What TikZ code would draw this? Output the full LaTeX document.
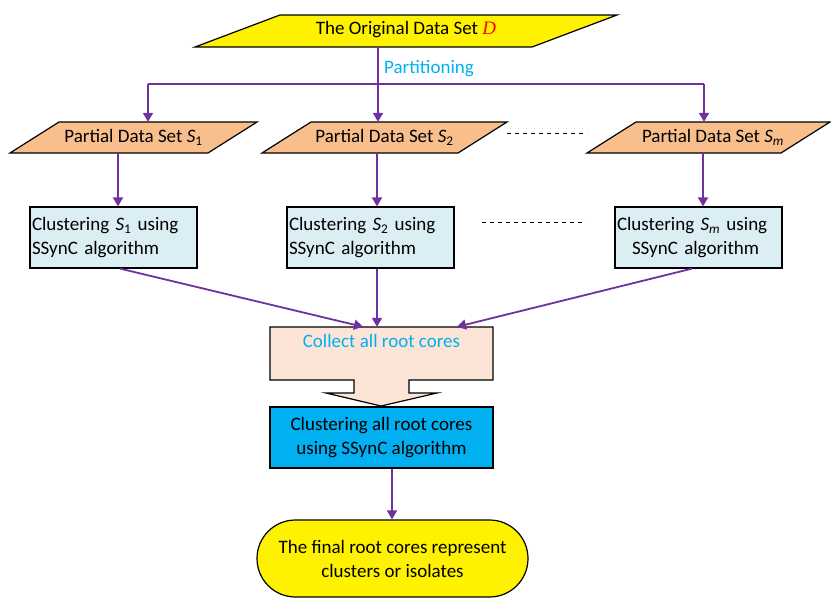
\documentclass[tikz,border=0pt]{standalone}
\usepackage{fontspec}
\setmainfont{Carlito}
\newfontfamily\serifD{Liberation Serif}
\usetikzlibrary{arrows.meta,calc,shapes.misc}
\definecolor{purp}{HTML}{7030A0}
\definecolor{cyanT}{HTML}{00B0F0}
\definecolor{peach}{HTML}{F8BF8D}
\definecolor{lblue}{HTML}{DBEEF4}
\definecolor{lpeach}{HTML}{FCE5D6}
\newcommand\Sx[1]{\textit{S}\textsubscript{#1}}
\begin{document}
\begin{tikzpicture}[x=1pt,y=-1pt,font=\fontsize{19}{24}\selectfont,
  shp/.style={draw=black,line width=1.2pt},
  arr/.style={draw=purp,line width=1.8pt,-{Triangle[length=9pt,width=10pt]}},
  ln/.style={draw=purp,line width=1.8pt},
  dsh/.style={draw=black,line width=0.9pt,dash pattern=on 4pt off 4pt},
  pnode/.style={inner sep=0pt,minimum height=31pt},
  cbox/.style={shp,fill=lblue,minimum width=167pt,minimum height=61pt,inner xsep=2pt,text width=163pt,align=left},
  bigbox/.style={shp,minimum width=223pt,minimum height=61pt,align=center}]
\useasboundingbox (0,0) rectangle (831,598);

% top data set
\draw[shp,fill=yellow] (280,15) -- (617,15) -- (532,47) -- (195,47) -- cycle;
\node[inner sep=0pt,minimum height=32pt] (D) at (406,30) {The Original Data Set {\serifD\itshape\color{red}D}};

\coordinate (split) at (378,84);
\coordinate (jL) at (148,84);
\coordinate (jR) at (704,84);
\draw[ln] (378,0 |- D.south) -- (split);
\node[text=cyanT,anchor=west,inner sep=0pt] (part) at (384,69) {Partitioning};
\draw[ln] (jL) -- (jR);

% partial sets
\draw[shp,fill=peach] (10,153) -- (59,122) -- (257,122) -- (208,153) -- cycle;
\node[pnode] (p1) at (133.5,137.5) {Partial Data Set \Sx{1}};
\draw[shp,fill=peach] (262,153) -- (311,122) -- (507,122) -- (458,153) -- cycle;
\node[pnode] (p2) at (384.5,137.5) {Partial Data Set \Sx{2}};
\draw[shp,fill=peach] (587,153) -- (636,122) -- (830,122) -- (781,153) -- cycle;
\node[pnode] (pm) at (713,137.5) {Partial Data Set \Sx{\textit{m}}};

\draw[arr] (jL) -- (jL |- p1.north);
\draw[arr] (split) -- (split |- p2.north);
\draw[arr] (jR) -- (jR |- pm.north);

\coordinate (d1a) at (507,133);
\coordinate (d1b) at (587,133);
\draw[dsh] (d1a) -- (d1b);

% clustering boxes
\node[cbox] (c1) at (113.5,237.5) {Clustering \Sx{1} using\\SSynC algorithm};
\node[cbox] (c2) at (370.5,237.5) {Clustering \Sx{2} using\\SSynC algorithm};
\node[cbox] (cm) at (698.5,237.5) {Clustering \Sx{\textit{m}} using\\\hspace*{15pt}SSynC algorithm};

\draw[arr] (118,0 |- p1.south) -- (118,0 |- c1.north);
\draw[arr] (377,0 |- p2.south) -- (377,0 |- c2.north);
\draw[arr] (703,0 |- pm.south) -- (703,0 |- cm.north);

\coordinate (d2a) at (482,222);
\coordinate (d2b) at (586,222);
\draw[dsh] (d2a) -- (d2b);

% collect
\draw[shp,fill=lpeach] (270,327) -- (493,327) -- (493,380) -- (409,380) -- (409,393) -- (437,393) -- (381,406) -- (326,393) -- (354,393) -- (354,380) -- (270,380) -- cycle;
\node[inner sep=0pt,minimum width=223pt,minimum height=53pt] (col) at (381.5,353.5) {};
\node[text=cyanT,inner sep=0pt] (colt) at (381.5,341) {Collect all root cores};

\draw[arr] (120,0 |- c1.south) -- (363,0 |- col.north);
\draw[arr] (377,0 |- c2.south) -- (377,0 |- col.north);
\draw[arr] (692,0 |- cm.south) -- (457,0 |- col.north);

% clustering all
\node[bigbox,fill=cyanT] (ca) at (381.5,437.5) {Clustering all root cores\\using SSynC algorithm};

% final
\node[shp,fill=yellow,rounded rectangle,minimum width=271pt,minimum height=77pt,inner sep=0pt,align=center] (fin) at (392.5,558.5) {The final root cores represent\\clusters or isolates};

\draw[arr] (392,0 |- ca.south) -- (392,0 |- fin.north);
\end{tikzpicture}
\end{document}
